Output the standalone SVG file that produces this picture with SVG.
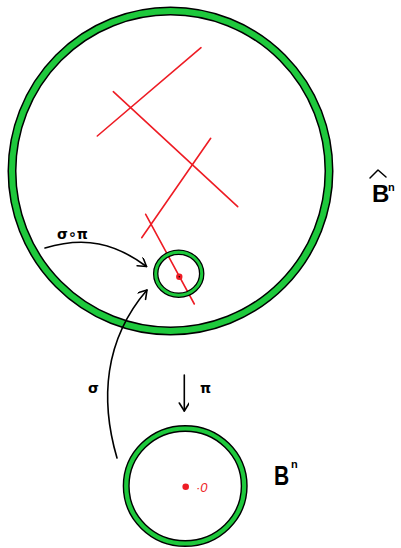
<svg xmlns="http://www.w3.org/2000/svg" width="401" height="548" viewBox="0 0 401 548">
<style>
.ringb{fill:none;stroke:#000;}
.ringg{fill:none;stroke:#1ec93c;}
.red{stroke:#ee1c24;stroke-width:1.6;fill:none;stroke-linecap:round;}
.conn{stroke:#000;stroke-width:1.6;fill:none;stroke-linecap:round;}
.lbl{font-family:"DejaVu Sans","Liberation Sans",sans-serif;fill:#000;}
</style>
<defs>
<marker id="arr" markerUnits="userSpaceOnUse" markerWidth="12" markerHeight="12" refX="9" refY="5" orient="auto">
<path d="M1,0 L9,5 L1,10" fill="none" stroke="#000" stroke-width="1.6" stroke-linecap="round" stroke-linejoin="round"/>
</marker>
</defs>
<rect width="401" height="548" fill="#fff"/>
<g id="big-ball">
<ellipse class="ringb" cx="170.5" cy="171" rx="158.5" ry="160" stroke-width="9"/>
<ellipse class="ringg" cx="170.5" cy="171" rx="158.5" ry="160" stroke-width="6"/>
</g>
<g id="red-lines">
<line class="red" x1="97.3" y1="136" x2="201" y2="47.7"/>
<line class="red" x1="113.3" y1="91.7" x2="237.7" y2="206.7"/>
<line class="red" x1="141.7" y1="237.7" x2="210.7" y2="138.3"/>
<line class="red" x1="145.7" y1="214.3" x2="194.3" y2="304"/>
</g>
<g id="small-ball">
<ellipse class="ringb" cx="178.7" cy="273.7" rx="23" ry="21.5" stroke-width="5.5"/>
<ellipse class="ringg" cx="178.7" cy="273.7" rx="23" ry="21.5" stroke-width="3"/>
<circle cx="179.3" cy="276.7" r="3.2" fill="#ee1c24"/>
<circle cx="179.3" cy="276.7" r="0.8" fill="#000"/>
</g>
<g id="bottom-ball">
<ellipse class="ringb" cx="185.2" cy="486" rx="59" ry="57.5" stroke-width="7"/>
<ellipse class="ringg" cx="185.2" cy="486" rx="59" ry="57.5" stroke-width="4.2"/>
<circle cx="185.7" cy="486.7" r="3.3" fill="#ee1c24"/>
<text x="196" y="491.5" font-family="'Liberation Sans',sans-serif" font-size="13" font-style="italic" fill="#ee1c24">·0</text>
</g>
<g id="connectors">
<path class="conn" d="M45,248 C 85,236 115,243 146.5,266.5" marker-end="url(#arr)"/>
<path class="conn" d="M117,458 C 100,400 104,340 147,290" marker-end="url(#arr)"/>
<line class="conn" x1="184.3" y1="375" x2="184.3" y2="411" marker-end="url(#arr)"/>
</g>
<g id="labels">
<text class="lbl" x="57" y="239" font-size="14" font-weight="bold">σ∘π</text>
<text class="lbl" x="88" y="393" font-size="14" font-weight="bold">σ</text>
<text class="lbl" x="200" y="393" font-size="14" font-weight="bold">π</text>
<g id="label-bhat">
<polyline points="370,178 378,170 386,177" fill="none" stroke="#000" stroke-width="1.5" stroke-linecap="round" stroke-linejoin="round"/>
<text x="372" y="202" font-family="'Liberation Sans',sans-serif" font-size="24" font-weight="bold">B</text>
<text x="388" y="191" font-family="'Liberation Sans',sans-serif" font-size="11" font-weight="bold">n</text>
</g>
<g id="label-b">
<text x="274" y="485" font-family="'Liberation Sans',sans-serif" font-size="28" font-weight="bold" transform="translate(274 485) scale(0.75 1) translate(-274 -485)">B</text>
<text x="291" y="468" font-family="'Liberation Sans',sans-serif" font-size="11" font-weight="bold">n</text>
</g>
</g>
</svg>
